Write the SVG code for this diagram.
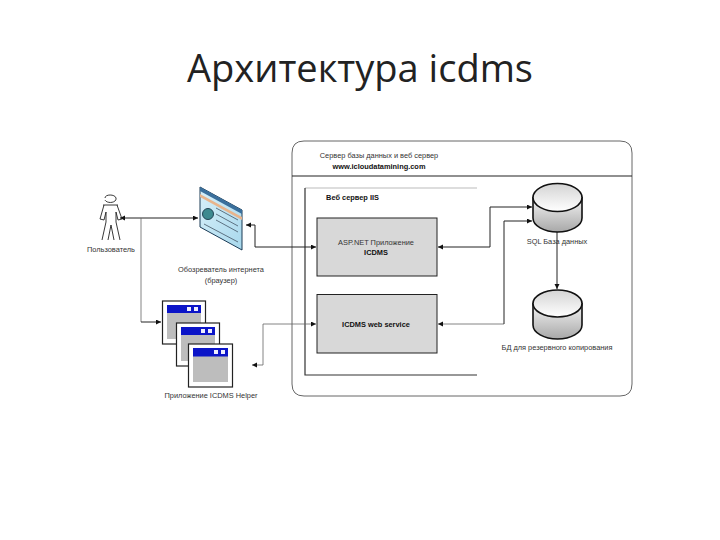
<svg xmlns="http://www.w3.org/2000/svg" width="720" height="540" viewBox="0 0 720 540">
<style>
text{font-family:"Liberation Sans",Arial,sans-serif;font-size:7.4px;fill:#333;text-anchor:middle}
.b{font-weight:bold;fill:#111}
.title{font-family:"Open Sans","Noto Sans",sans-serif;font-size:38px;fill:#222}
.c{fill:none;stroke:#222;stroke-width:1}
.g{fill:none;stroke:#666;stroke-width:0.8}
.win{fill:#fff;stroke:#222;stroke-width:1.2}
.cap{fill:#0b14c8}
.pane{fill:#bdbdbd}
.btn{fill:#eef}
.cyl{stroke:#111;stroke-width:1.6}
.box{fill:#d8d8d8;stroke:#222;stroke-width:1}
</style>
<defs>
<marker id="a" markerWidth="7" markerHeight="7" refX="5" refY="2.500" orient="auto-start-reverse" markerUnits="userSpaceOnUse"><path d="M0 0L5 2.500L0 5z" fill="#111"/></marker>
<linearGradient id="cg" x1="0" y1="0" x2="0" y2="1"><stop offset="0" stop-color="#f4f4f4"/><stop offset="1" stop-color="#a8a8a8"/></linearGradient>
<linearGradient id="ct" x1="0" y1="0" x2="0" y2="1"><stop offset="0" stop-color="#d4d4d4"/><stop offset="1" stop-color="#fff"/></linearGradient>
<linearGradient id="br" x1="0" y1="0" x2="1" y2="1"><stop offset="0" stop-color="#d8f0fa"/><stop offset="1" stop-color="#a8d8ec"/></linearGradient>
</defs>
<text class="title" x="360" y="82" textLength="346" lengthAdjust="spacingAndGlyphs">Архитектура icdms</text>

<g id="server-frame">
<path d="M304 141H620Q632 141 632 153V384Q632 396 620 396H304Q292 396 292 384V153Q292 141 304 141Z" fill="#fff" stroke="#666" stroke-width="1"/>
<path d="M292 176H632" stroke="#222" stroke-width="1.2"/>
<text x="379" y="158">Сервер базы данных и веб сервер</text>
<text class="b" x="379" y="168.500">www.icloudatamining.com</text>
</g>
<g id="web-server">
<path d="M305 188H477" stroke="#bbb" fill="none"/>
<path d="M305 188V375H477" stroke="#333" stroke-width="1.2" fill="none"/>
<text class="b" x="352.500" y="199.500">Веб сервер IIS</text>
</g>
<g id="app">
<rect class="box" x="317" y="218" width="120" height="58"/>
<text x="376" y="245">ASP.NET Приложение</text>
<text class="b" x="376" y="255">ICDMS</text>
</g>
<g id="webservice">
<rect class="box" x="317" y="294.500" width="120" height="58.500"/>
<text class="b" x="376" y="326.500">ICDMS web service</text>
</g>

<g id="connectors">
<path class="c" d="M120 218H198" marker-start="url(#a)" marker-end="url(#a)"/>
<path class="g" d="M141 218V322"/>
<path class="c" d="M141 322H161" marker-end="url(#a)"/>
<path class="c" d="M246 225H255V247H316" marker-start="url(#a)" marker-end="url(#a)"/>
<path class="g" d="M252 365H263V324H316" marker-start="url(#a)" marker-end="url(#a)"/>
<path class="c" d="M438 247H490V207H532" marker-start="url(#a)" marker-end="url(#a)"/>
<path class="g" d="M438 324H504" marker-start="url(#a)"/>
<path class="c" d="M504 324V221H532" marker-end="url(#a)"/>
<path class="c" d="M557 232V289" marker-end="url(#a)"/>
</g>

<g id="user" fill="none" stroke="#222" stroke-width="0.9">
<path d="M105 198C105 194 115 194 116 198C117 203 107 204 105 200"/>
<path d="M103 205H118M104 205L100 219L104 220L106 212L106 222L102 240M117 205L122 219L118 220L116 212L116 222L120 240M111 225L108 240M111 225L114 240"/>
<text x="111" y="252" stroke="none">Пользователь</text>
</g>
<g id="browser">
<path d="M200 187L242 210V250L200 227Z" fill="url(#br)" stroke="#1a3a55" stroke-width="1"/>
<path d="M200 187L242 210V214L200 191Z" fill="#3a6f9c"/>
<path d="M200 194L242 217V220L200 197Z" fill="#e8b48c"/>
<circle cx="208" cy="214" r="5.500" fill="#3d8a90" stroke="#245"/>
<path d="M216 208L238 220M216 214L238 226M216 220L238 232M204 224L238 242" stroke="#456" stroke-width="0.8"/>
<text x="221" y="272">Обозреватель интернета</text>
<text x="221" y="283">(браузер)</text>
</g>
<g id="helper1">
<rect class="win" x="162.500" y="301" width="43" height="43"/>
<rect class="pane" x="167" y="305" width="34" height="34"/>
<rect class="cap" x="167" y="305" width="34" height="8"/>
<rect class="btn" x="187" y="307" width="4" height="4"/><rect class="btn" x="194" y="307" width="4" height="4"/>
</g>
<g id="helper2">
<rect class="win" x="176.500" y="323" width="43" height="43"/>
<rect class="pane" x="181" y="327" width="34" height="34"/>
<rect class="cap" x="181" y="327" width="34" height="8"/>
<rect class="btn" x="201" y="329" width="4" height="4"/><rect class="btn" x="208" y="329" width="4" height="4"/>
</g>
<g id="helper3">
<rect class="win" x="188.500" y="344" width="44" height="43"/>
<rect class="pane" x="193" y="348" width="35" height="34"/>
<rect class="cap" x="193" y="348" width="35" height="8.500"/>
<rect class="btn" x="214" y="350" width="4" height="4"/><rect class="btn" x="221" y="350" width="4" height="4"/>
<text x="211" y="398">Приложение ICDMS Helper</text>
</g>
<g id="sql-db">
<path class="cyl" d="M533 197.500V218A24.500 14 0 0 0 582 218V197.500Z" fill="url(#cg)"/>
<ellipse class="cyl" cx="557.500" cy="197.500" rx="24.500" ry="14" fill="url(#ct)"/>
<text x="557" y="244">SQL База данных</text>
</g>
<g id="backup-db">
<path class="cyl" d="M533 303.500V325A24.500 14 0 0 0 582 325V303.500Z" fill="url(#cg)"/>
<ellipse class="cyl" cx="557.500" cy="303.500" rx="24.500" ry="13.500" fill="url(#ct)"/>
<text x="557" y="350">БД для резервного копирования</text>
</g>
</svg>
